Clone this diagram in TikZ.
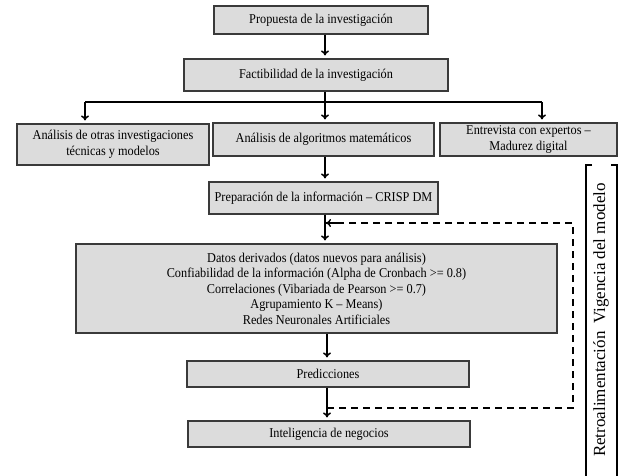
\documentclass[tikz,border=0pt]{standalone}
\usepackage{fontspec}
\setmainfont{Liberation Serif}[FakeStretch=0.91]
\newfontfamily\sidefont{Liberation Serif}
\usetikzlibrary{arrows.meta,shadows}
\definecolor{boxfill}{HTML}{DCDCDC}
\definecolor{boxline}{HTML}{3A3A3A}
\tikzset{
  flowbox/.style={draw=boxline, line width=1.1pt, fill=boxfill, inner sep=0pt,
    align=center, font=\fontsize{13.5}{15.5}\selectfont,
    drop shadow={opacity=0.25, shadow xshift=1pt, shadow yshift=-1pt}},
  link/.style={line width=1.5pt, black},
  arr/.style={link, -{To[length=5pt,width=8pt,line width=1.5pt]}, shorten >=3pt},
  fbline/.style={line width=1.8pt, black, dash pattern=on 7pt off 5pt},
}
\begin{document}
\begin{tikzpicture}[x=1pt,y=-1pt]
\useasboundingbox (0,0) rectangle (619,475);
\fill[white] (0,0) rectangle (619,475);

\node[flowbox, minimum width=214pt, minimum height=28pt] (prop) at (321,20) {Propuesta de la investigación};
\node[flowbox, minimum width=264pt, minimum height=32pt] (fact) at (316,75) {Factibilidad de la investigación};
\node[flowbox, minimum width=192pt, minimum height=41pt] (left) at (113,144.5) {Análisis de otras investigaciones\\técnicas y modelos};
\node[flowbox, minimum width=221pt, minimum height=33pt] (mid) at (323.5,139.5) {Análisis de algoritmos matemáticos};
\node[flowbox, minimum width=177pt, minimum height=33pt] (right) at (528.5,139.5) {Entrevista con expertos –\\Madurez digital};
\node[flowbox, minimum width=229pt, minimum height=32pt] (prep) at (323.5,198) {Preparación de la información – CRISP DM};
\node[flowbox, minimum width=481pt, minimum height=89pt] (big) at (316.5,288.5) {Datos derivados (datos nuevos para análisis)\\Confiabilidad de la información (Alpha de Cronbach >= 0.8)\\Correlaciones (Vibariada de Pearson >= 0.7)\\Agrupamiento K – Means)\\Redes Neuronales Artificiales};
\node[flowbox, minimum width=282pt, minimum height=26pt] (pred) at (328,374) {Predicciones};
\node[flowbox, minimum width=282pt, minimum height=26pt] (intel) at (329,434) {Inteligencia de negocios};

% column coordinates
\coordinate (c1) at (325,0);
\coordinate (c2) at (327,0);
\coordinate (busL) at (85,102);
\coordinate (busR) at (542,102);

\draw[arr] (c1 |- prop.south) -- (c1 |- fact.north);
\draw[link] (c1 |- fact.south) -- (c1 |- busL);
\draw[link] (busL) -- (busR);
\draw[arr] (busL) -- (busL |- left.north);
\draw[arr] (c1 |- busL) -- (c1 |- mid.north);
\draw[arr] (busR) -- (busR |- right.north);
\draw[arr] (c1 |- mid.south) -- (c1 |- prep.north);
\draw[arr] (c1 |- prep.south) -- (c1 |- big.north);
\draw[arr] (c2 |- big.south) -- (c2 |- pred.north);
\draw[arr] (c2 |- pred.south) -- (c2 |- intel.north);

% feedback dashed loop
\coordinate (fbB) at (327,408);
\coordinate (fbC) at (573,408);
\coordinate (fbD) at (573,223);
\coordinate (fbE) at (326,223);
\draw[fbline] (fbB) -- (fbC) -- (fbD) -- (fbE);
\draw[line width=1.4pt, -{To[length=5pt,width=8pt,line width=1.4pt]}] (340,223) -- (fbE);

% side bracket with rotated label
\draw[line width=1.1pt] (592,165) -- (586,165) -- (586,480);
\draw[line width=1.1pt] (611,165) -- (617,165) -- (617,480);
\node[rotate=90, inner sep=0pt, font=\sidefont\fontsize{17}{20}\selectfont] (side) at (601,320) {Retroalimentación\hspace{0.45em}Vigencia del modelo};
\end{tikzpicture}
\end{document}
